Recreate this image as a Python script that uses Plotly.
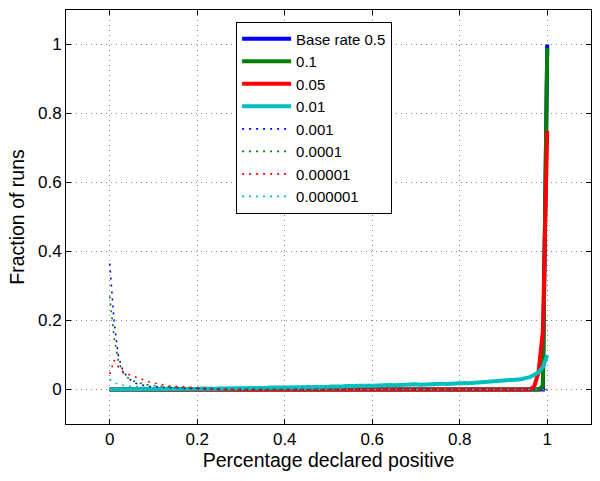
import plotly.graph_objects as go

# Bin positions (fraction declared positive)
x = [i / 100 for i in range(101)]

# Solid series
base_05 = [0.0] * 100 + [1.0]
base_01 = [0.0] * 99 + [0.01, 0.99]
base_005 = [0.0] * 97 + [0.008, 0.05, 0.17, 0.75]
base_001 = [
    0.000, 0.000, 0.000, 0.001, 0.001, 0.001, 0.001, 0.001, 0.001, 0.001,
    0.001, 0.001, 0.002, 0.001, 0.002, 0.002, 0.001, 0.002, 0.002, 0.002,
    0.002, 0.003, 0.002, 0.003, 0.002, 0.003, 0.003, 0.003, 0.004, 0.003,
    0.004, 0.003, 0.004, 0.004, 0.005, 0.004, 0.005, 0.006, 0.005, 0.006,
    0.006, 0.006, 0.007, 0.006, 0.007, 0.007, 0.008, 0.007, 0.008, 0.008,
    0.008, 0.009, 0.008, 0.009, 0.010, 0.009, 0.010, 0.011, 0.010, 0.011,
    0.011, 0.012, 0.011, 0.012, 0.013, 0.012, 0.013, 0.014, 0.013, 0.014,
    0.015, 0.014, 0.015, 0.016, 0.015, 0.016, 0.017, 0.016, 0.017, 0.018,
    0.018, 0.019, 0.018, 0.019, 0.020, 0.021, 0.020, 0.022, 0.023, 0.024,
    0.025, 0.026, 0.027, 0.028, 0.030, 0.033, 0.036, 0.042, 0.050, 0.065,
    0.100,
]

# Dotted series
base_0001 = [
    0.365, 0.195, 0.095, 0.055, 0.037, 0.025, 0.018, 0.014, 0.011, 0.009,
    0.008, 0.007, 0.006, 0.005, 0.005, 0.004, 0.004, 0.003, 0.003, 0.002,
    0.002, 0.001, 0.001, 0.001,
] + [0.0] * 77
base_00001 = [
    0.27, 0.15, 0.08, 0.05, 0.035, 0.027, 0.022, 0.018, 0.015, 0.013,
    0.011, 0.010, 0.009, 0.008, 0.007, 0.006, 0.005, 0.005, 0.004, 0.004,
    0.003, 0.002, 0.002, 0.001, 0.001,
] + [0.0] * 76
base_000001 = [
    0.045, 0.085, 0.065, 0.052, 0.045, 0.040, 0.035, 0.030, 0.026, 0.022,
    0.019, 0.016, 0.014, 0.012, 0.010, 0.009, 0.008, 0.007, 0.006, 0.005,
    0.004, 0.004, 0.003, 0.003, 0.002, 0.002, 0.001, 0.001,
] + [0.0] * 73
base_0000001 = [
    0.030, 0.020, 0.015, 0.012, 0.010, 0.009, 0.008, 0.007, 0.006, 0.005,
    0.004, 0.004, 0.003, 0.003, 0.002, 0.002, 0.001, 0.001,
] + [0.0] * 83

names = ["Base rate 0.5", "0.1", "0.05", "0.01",
         "0.001", "0.0001", "0.00001", "0.000001"]
series = [base_05, base_01, base_005, base_001,
          base_0001, base_00001, base_000001, base_0000001]
colors = ["#0000FF", "#007F00", "#FF0000", "#00BFBF",
          "#0000FF", "#007F00", "#FF0000", "#00BFBF"]
solid = [True, True, True, True, False, False, False, False]

fig = go.Figure()
for nm, ys, c, s in zip(names, series, colors, solid):
    fig.add_trace(go.Scatter(
        x=x, y=ys, name=nm, mode="lines",
        line=dict(color=c, width=4 if s else 1.6, dash="solid" if s else "2px,5px"),
    ))

font_family = "Liberation Sans, Arial, Helvetica, sans-serif"
axis_common = dict(
    showline=True, linecolor="#000000", linewidth=1, mirror="ticks",
    ticks="inside", ticklen=5, tickcolor="#000000",
    showgrid=True, gridcolor="#8a8a8a", gridwidth=1, griddash="1px,4px",
    zeroline=False, tickfont=dict(size=17, color="#000000", family=font_family),
)

fig.update_layout(
    width=600, height=481,
    margin=dict(l=66, r=9, t=10, b=57),
    paper_bgcolor="#FFFFFF", plot_bgcolor="#FFFFFF",
    font=dict(family=font_family, color="#000000"),
    xaxis=dict(range=[-0.1, 1.1], tickvals=[0, 0.2, 0.4, 0.6, 0.8, 1],
               ticktext=["0", "0.2", "0.4", "0.6", "0.8", "1"],
               title=dict(text="Percentage declared positive", font=dict(size=19.5), standoff=4),
               **axis_common),
    yaxis=dict(range=[-0.1, 1.1], tickvals=[0, 0.2, 0.4, 0.6, 0.8, 1],
               ticktext=["0", "0.2", "0.4", "0.6", "0.8", "1"],
               title=dict(text="Fraction of runs", font=dict(size=19.5), standoff=8),
               **axis_common),
    legend=dict(x=0.324, y=0.972, xanchor="left", yanchor="top",
                bgcolor="#FFFFFF", bordercolor="#000000", borderwidth=1,
                itemwidth=49,
                font=dict(size=15, color="#000000")),
    showlegend=True,
)

fig.write_html("out.html", config={"displayModeBar": False},
               post_script="document.body.style.margin='0px';document.body.style.padding='0px';")
